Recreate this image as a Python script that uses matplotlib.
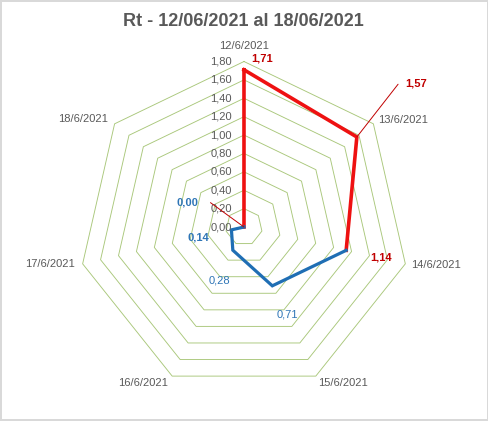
import matplotlib
matplotlib.use("Agg")
import matplotlib.pyplot as plt
import numpy as np

plt.rcParams["font.family"] = ["Liberation Sans", "DejaVu Sans"]

# data
categories = ["12/6/2021", "13/6/2021", "14/6/2021", "15/6/2021",
              "16/6/2021", "17/6/2021", "18/6/2021"]
red_values = [1.71, 1.57, 1.14, np.nan, np.nan, np.nan, 0.00]
blue_values = [np.nan, np.nan, 1.14, 0.71, 0.28, 0.14, 0.00]
grid_levels = [0.2, 0.4, 0.6, 0.8, 1.0, 1.2, 1.4, 1.6, 1.8]
tick_values = [0.0, 0.2, 0.4, 0.6, 0.8, 1.0, 1.2, 1.4, 1.6, 1.8]

RED = "#EE1111"
RED_TXT = "#C00000"
BLUE = "#1F6EB4"
BLUE_TXT = "#2E75B6"
GRID = "#A9C77A"
GRAY = "#595959"

n = len(categories)
theta = np.arange(n) * 2 * np.pi / n
theta_closed = np.append(theta, theta[0])

fig = plt.figure(figsize=(4.89, 4.21), dpi=100)
fig.patch.set_edgecolor("#D9D9D9")
fig.patch.set_linewidth(1.5)

ax = fig.add_axes([0.1605, 0.0677, 0.6769, 0.7862], projection="polar")
ax.set_theta_zero_location("N")
ax.set_theta_direction(-1)
ax.set_ylim(0, 1.8)
ax.grid(False)
ax.set_xticks([])
ax.set_yticks([])
ax.spines["polar"].set_visible(False)
ax.patch.set_alpha(0)

# heptagon gridlines
for lvl in grid_levels:
    ax.plot(theta_closed, [lvl] * (n + 1), color=GRID, lw=0.65, clip_on=False, zorder=1)

# series: red closes from 18/6 back to 12/6
red_closed = red_values + [red_values[0]]
ax.plot(theta_closed, red_closed, color=RED, lw=2.6, clip_on=False, zorder=3)
ax.plot(theta, blue_values, color=BLUE, lw=2.3, clip_on=False, zorder=3,
        solid_joinstyle="miter")

# value tick labels
for v in tick_values:
    ax.annotate(f"{v:.2f}".replace(".", ","), xy=(0, v), xytext=(-12, 0),
                textcoords="offset pixels", ha="right", va="center",
                fontsize=8, color=GRAY)

# category labels
cat_offsets = [(0, 16, "center"), (5, 4, "left"), (6, -1, "left"), (2, -7, "left"),
               (-4, -7, "right"), (-8, 0, "right"), (-7, 5, "right")]
for t, lab, (dx, dy, ha) in zip(theta, categories, cat_offsets):
    ax.annotate(lab, xy=(t, 1.8), xytext=(dx, dy), textcoords="offset pixels",
                ha=ha, va="center", fontsize=8, color=GRAY)

# data labels
def fmt(v):
    return f"{v:.2f}".replace(".", ",")

ax.annotate(fmt(red_values[0]), xy=(theta[0], red_values[0]), xytext=(18, 11),
            textcoords="offset pixels", ha="center", va="center",
            fontsize=8, color=RED_TXT, fontweight="bold")
ax.annotate(fmt(red_values[1]), xy=(theta[1], red_values[1]), xytext=(48, 54),
            textcoords="offset pixels", ha="left", va="center",
            fontsize=8, color=RED_TXT, fontweight="bold",
            arrowprops=dict(arrowstyle="-", color=RED_TXT, lw=0.7,
                            shrinkA=3, shrinkB=0, relpos=(0, 0.5),
                            connectionstyle="angle,angleA=0,angleB=52,rad=0"))
ax.annotate(fmt(red_values[2]), xy=(theta[2], red_values[2]), xytext=(35, -7),
            textcoords="offset pixels", ha="center", va="center",
            fontsize=8, color=RED_TXT, fontweight="bold")

blue_offsets = {3: (15, -29, "normal"), 4: (-13, -30, "normal"), 5: (-33, -8, "bold")}
for i, (dx, dy, w) in blue_offsets.items():
    ax.annotate(fmt(blue_values[i]), xy=(theta[i], blue_values[i]), xytext=(dx, dy),
                textcoords="offset pixels", ha="center", va="center",
                fontsize=8, color=BLUE_TXT, fontweight=w)
ax.annotate(fmt(blue_values[6]), xy=(theta[6], blue_values[6]), xytext=(-46, 25),
            textcoords="offset pixels", ha="right", va="center",
            fontsize=8, color=BLUE_TXT, fontweight="bold",
            arrowprops=dict(arrowstyle="-", color=RED_TXT, lw=0.7,
                            shrinkA=7, shrinkB=0, relpos=(1, 0.5),
                            connectionstyle="angle,angleA=0,angleB=144,rad=0"))

fig.text(243 / 489, 1 - 22 / 421, "Rt - 12/06/2021 al 18/06/2021",
         ha="center", va="center", fontsize=13, fontweight="bold", color=GRAY)

fig.savefig("out.png", dpi=100)
